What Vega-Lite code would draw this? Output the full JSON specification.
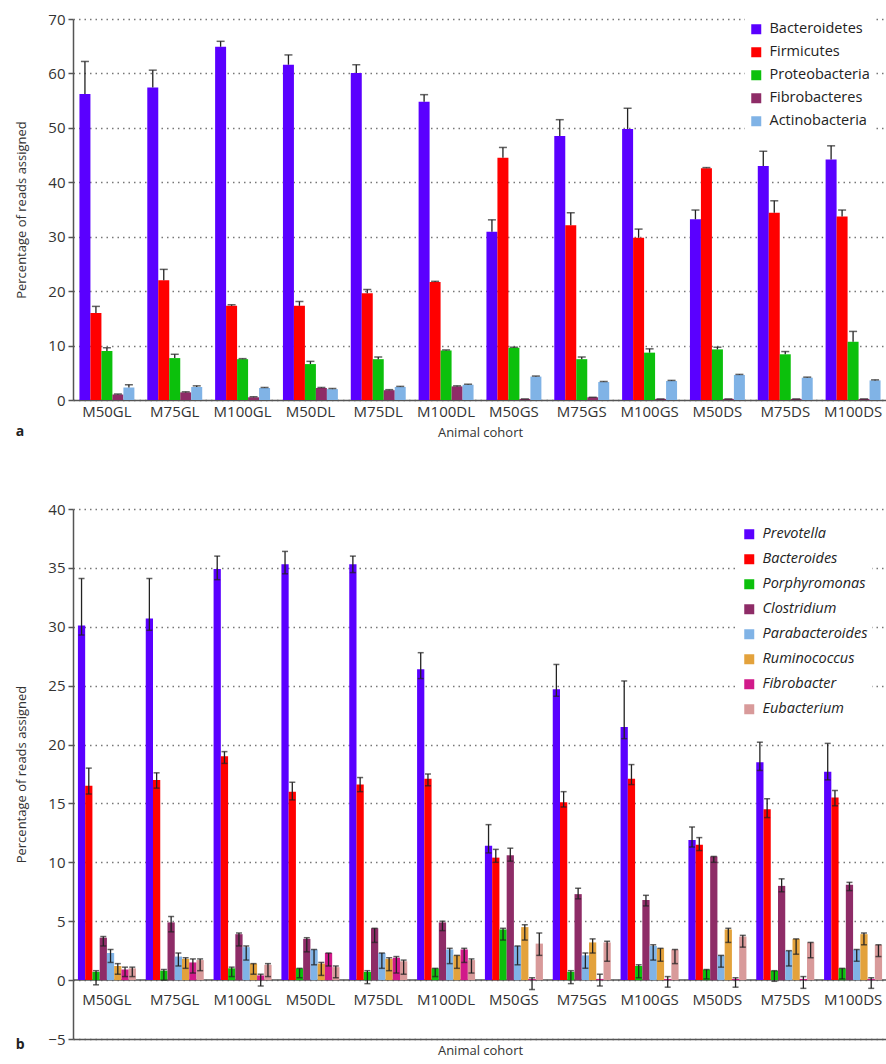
{
  "$schema": "https://vega.github.io/schema/vega-lite/v6.json",
  "padding": {"left": 15, "top": 12, "right": 0, "bottom": 0},
  "spacing": 63,
  "resolve": {"scale": {"color": "independent", "xOffset": "independent", "x": "independent", "y": "independent"}, "legend": {"color": "independent"}},
  "config": {
    "font": "Open Sans",
    "view": {"stroke": null},
    "axis": {"labelFont": "Open Sans", "labelFontSize": 15, "labelColor": "#333", "titleFont": "Open Sans", "titleFontSize": 13, "titleFontWeight": "normal", "titleColor": "#333", "domainColor": "#555", "domainWidth": 1.5, "tickColor": "#555", "tickWidth": 1.5},
    "legend": {"labelFont": "Open Sans", "labelFontSize": 14.5, "labelColor": "#222", "symbolType": "square", "symbolSize": 100, "symbolStrokeWidth": 0, "labelOffset": 6, "fillColor": "white", "padding": 4}
  },
  "datasets": {
    "a": [
      {"cohort": "M50GL", "taxon": "Bacteroidetes", "value": 56.2, "hi": 62.2},
      {"cohort": "M50GL", "taxon": "Firmicutes", "value": 16.0, "hi": 17.2},
      {"cohort": "M50GL", "taxon": "Proteobacteria", "value": 9.0, "hi": 9.6},
      {"cohort": "M50GL", "taxon": "Fibrobacteres", "value": 1.0, "hi": 1.1},
      {"cohort": "M50GL", "taxon": "Actinobacteria", "value": 2.3, "hi": 2.8},
      {"cohort": "M75GL", "taxon": "Bacteroidetes", "value": 57.4, "hi": 60.6},
      {"cohort": "M75GL", "taxon": "Firmicutes", "value": 22.0, "hi": 24.0},
      {"cohort": "M75GL", "taxon": "Proteobacteria", "value": 7.7, "hi": 8.4},
      {"cohort": "M75GL", "taxon": "Fibrobacteres", "value": 1.4, "hi": 1.5},
      {"cohort": "M75GL", "taxon": "Actinobacteria", "value": 2.4, "hi": 2.6},
      {"cohort": "M100GL", "taxon": "Bacteroidetes", "value": 64.9, "hi": 65.9},
      {"cohort": "M100GL", "taxon": "Firmicutes", "value": 17.3, "hi": 17.5},
      {"cohort": "M100GL", "taxon": "Proteobacteria", "value": 7.5, "hi": 7.6},
      {"cohort": "M100GL", "taxon": "Fibrobacteres", "value": 0.5, "hi": 0.6},
      {"cohort": "M100GL", "taxon": "Actinobacteria", "value": 2.2, "hi": 2.3},
      {"cohort": "M50DL", "taxon": "Bacteroidetes", "value": 61.6, "hi": 63.4},
      {"cohort": "M50DL", "taxon": "Firmicutes", "value": 17.3, "hi": 18.1},
      {"cohort": "M50DL", "taxon": "Proteobacteria", "value": 6.6, "hi": 7.1},
      {"cohort": "M50DL", "taxon": "Fibrobacteres", "value": 2.2, "hi": 2.3},
      {"cohort": "M50DL", "taxon": "Actinobacteria", "value": 2.0, "hi": 2.1},
      {"cohort": "M75DL", "taxon": "Bacteroidetes", "value": 60.1, "hi": 61.6},
      {"cohort": "M75DL", "taxon": "Firmicutes", "value": 19.6, "hi": 20.3},
      {"cohort": "M75DL", "taxon": "Proteobacteria", "value": 7.5, "hi": 7.9},
      {"cohort": "M75DL", "taxon": "Fibrobacteres", "value": 1.8, "hi": 1.9},
      {"cohort": "M75DL", "taxon": "Actinobacteria", "value": 2.4, "hi": 2.5},
      {"cohort": "M100DL", "taxon": "Bacteroidetes", "value": 54.8, "hi": 56.1},
      {"cohort": "M100DL", "taxon": "Firmicutes", "value": 21.7, "hi": 21.8},
      {"cohort": "M100DL", "taxon": "Proteobacteria", "value": 9.1, "hi": 9.2},
      {"cohort": "M100DL", "taxon": "Fibrobacteres", "value": 2.5, "hi": 2.6},
      {"cohort": "M100DL", "taxon": "Actinobacteria", "value": 2.8, "hi": 2.9},
      {"cohort": "M50GS", "taxon": "Bacteroidetes", "value": 30.9, "hi": 33.1},
      {"cohort": "M50GS", "taxon": "Firmicutes", "value": 44.5, "hi": 46.4},
      {"cohort": "M50GS", "taxon": "Proteobacteria", "value": 9.6, "hi": 9.7},
      {"cohort": "M50GS", "taxon": "Fibrobacteres", "value": 0.2, "hi": 0.2},
      {"cohort": "M50GS", "taxon": "Actinobacteria", "value": 4.3, "hi": 4.4},
      {"cohort": "M75GS", "taxon": "Bacteroidetes", "value": 48.5, "hi": 51.5},
      {"cohort": "M75GS", "taxon": "Firmicutes", "value": 32.1, "hi": 34.4},
      {"cohort": "M75GS", "taxon": "Proteobacteria", "value": 7.5, "hi": 7.9},
      {"cohort": "M75GS", "taxon": "Fibrobacteres", "value": 0.5, "hi": 0.5},
      {"cohort": "M75GS", "taxon": "Actinobacteria", "value": 3.3, "hi": 3.4},
      {"cohort": "M100GS", "taxon": "Bacteroidetes", "value": 49.8, "hi": 53.6},
      {"cohort": "M100GS", "taxon": "Firmicutes", "value": 29.8, "hi": 31.4},
      {"cohort": "M100GS", "taxon": "Proteobacteria", "value": 8.7, "hi": 9.4},
      {"cohort": "M100GS", "taxon": "Fibrobacteres", "value": 0.2, "hi": 0.2},
      {"cohort": "M100GS", "taxon": "Actinobacteria", "value": 3.5, "hi": 3.6},
      {"cohort": "M50DS", "taxon": "Bacteroidetes", "value": 33.2, "hi": 34.9},
      {"cohort": "M50DS", "taxon": "Firmicutes", "value": 42.6, "hi": 42.7},
      {"cohort": "M50DS", "taxon": "Proteobacteria", "value": 9.3, "hi": 9.7},
      {"cohort": "M50DS", "taxon": "Fibrobacteres", "value": 0.2, "hi": 0.2},
      {"cohort": "M50DS", "taxon": "Actinobacteria", "value": 4.6, "hi": 4.7},
      {"cohort": "M75DS", "taxon": "Bacteroidetes", "value": 43.0, "hi": 45.7},
      {"cohort": "M75DS", "taxon": "Firmicutes", "value": 34.4, "hi": 36.6},
      {"cohort": "M75DS", "taxon": "Proteobacteria", "value": 8.4, "hi": 8.9},
      {"cohort": "M75DS", "taxon": "Fibrobacteres", "value": 0.2, "hi": 0.2},
      {"cohort": "M75DS", "taxon": "Actinobacteria", "value": 4.1, "hi": 4.2},
      {"cohort": "M100DS", "taxon": "Bacteroidetes", "value": 44.2, "hi": 46.7},
      {"cohort": "M100DS", "taxon": "Firmicutes", "value": 33.7, "hi": 34.9},
      {"cohort": "M100DS", "taxon": "Proteobacteria", "value": 10.7, "hi": 12.6},
      {"cohort": "M100DS", "taxon": "Fibrobacteres", "value": 0.2, "hi": 0.2},
      {"cohort": "M100DS", "taxon": "Actinobacteria", "value": 3.6, "hi": 3.7}
    ],
    "b": [
      {"cohort": "M50GL", "taxon": "Prevotella", "value": 30.1, "lo": 29.3, "hi": 34.1},
      {"cohort": "M50GL", "taxon": "Bacteroides", "value": 16.5, "lo": 15.8, "hi": 18.0},
      {"cohort": "M50GL", "taxon": "Porphyromonas", "value": 0.7, "lo": -0.4, "hi": 0.8},
      {"cohort": "M50GL", "taxon": "Clostridium", "value": 3.6, "lo": 2.9, "hi": 3.7},
      {"cohort": "M50GL", "taxon": "Parabacteroides", "value": 2.3, "lo": 1.5, "hi": 2.6},
      {"cohort": "M50GL", "taxon": "Ruminococcus", "value": 1.2, "lo": 0.5, "hi": 1.4},
      {"cohort": "M50GL", "taxon": "Fibrobacter", "value": 0.9, "lo": 0.3, "hi": 1.1},
      {"cohort": "M50GL", "taxon": "Eubacterium", "value": 1.0, "lo": 0.3, "hi": 1.1},
      {"cohort": "M75GL", "taxon": "Prevotella", "value": 30.7, "lo": 29.7, "hi": 34.1},
      {"cohort": "M75GL", "taxon": "Bacteroides", "value": 17.0, "lo": 16.3, "hi": 17.6},
      {"cohort": "M75GL", "taxon": "Porphyromonas", "value": 0.8, "lo": 0.0, "hi": 0.9},
      {"cohort": "M75GL", "taxon": "Clostridium", "value": 4.9, "lo": 4.1, "hi": 5.4},
      {"cohort": "M75GL", "taxon": "Parabacteroides", "value": 2.0, "lo": 1.2, "hi": 2.3},
      {"cohort": "M75GL", "taxon": "Ruminococcus", "value": 1.8, "lo": 1.0, "hi": 1.9},
      {"cohort": "M75GL", "taxon": "Fibrobacter", "value": 1.5, "lo": 0.6, "hi": 1.8},
      {"cohort": "M75GL", "taxon": "Eubacterium", "value": 1.7, "lo": 0.8, "hi": 1.8},
      {"cohort": "M100GL", "taxon": "Prevotella", "value": 34.9, "lo": 34.0, "hi": 36.0},
      {"cohort": "M100GL", "taxon": "Bacteroides", "value": 19.0, "lo": 18.4, "hi": 19.4},
      {"cohort": "M100GL", "taxon": "Porphyromonas", "value": 1.0, "lo": 0.3, "hi": 1.1},
      {"cohort": "M100GL", "taxon": "Clostridium", "value": 3.9, "lo": 2.9, "hi": 4.0},
      {"cohort": "M100GL", "taxon": "Parabacteroides", "value": 2.8, "lo": 1.7, "hi": 2.9},
      {"cohort": "M100GL", "taxon": "Ruminococcus", "value": 1.4, "lo": 0.5, "hi": 1.4},
      {"cohort": "M100GL", "taxon": "Fibrobacter", "value": 0.4, "lo": -0.5, "hi": 0.5},
      {"cohort": "M100GL", "taxon": "Eubacterium", "value": 1.3, "lo": 0.3, "hi": 1.4},
      {"cohort": "M50DL", "taxon": "Prevotella", "value": 35.3, "lo": 34.5, "hi": 36.4},
      {"cohort": "M50DL", "taxon": "Bacteroides", "value": 16.0, "lo": 15.3, "hi": 16.8},
      {"cohort": "M50DL", "taxon": "Porphyromonas", "value": 1.0, "lo": 0.2, "hi": 1.0},
      {"cohort": "M50DL", "taxon": "Clostridium", "value": 3.5, "lo": 2.4, "hi": 3.6},
      {"cohort": "M50DL", "taxon": "Parabacteroides", "value": 2.6, "lo": 1.3, "hi": 2.6},
      {"cohort": "M50DL", "taxon": "Ruminococcus", "value": 1.4, "lo": 0.4, "hi": 1.5},
      {"cohort": "M50DL", "taxon": "Fibrobacter", "value": 2.3, "lo": 1.2, "hi": 2.3},
      {"cohort": "M50DL", "taxon": "Eubacterium", "value": 1.1, "lo": 0.2, "hi": 1.2},
      {"cohort": "M75DL", "taxon": "Prevotella", "value": 35.3, "lo": 34.6, "hi": 36.0},
      {"cohort": "M75DL", "taxon": "Bacteroides", "value": 16.6, "lo": 16.0, "hi": 17.2},
      {"cohort": "M75DL", "taxon": "Porphyromonas", "value": 0.7, "lo": -0.3, "hi": 0.8},
      {"cohort": "M75DL", "taxon": "Clostridium", "value": 4.4, "lo": 3.2, "hi": 4.4},
      {"cohort": "M75DL", "taxon": "Parabacteroides", "value": 2.3, "lo": 1.0, "hi": 2.3},
      {"cohort": "M75DL", "taxon": "Ruminococcus", "value": 1.8, "lo": 0.8, "hi": 1.9},
      {"cohort": "M75DL", "taxon": "Fibrobacter", "value": 1.9, "lo": 0.6, "hi": 2.0},
      {"cohort": "M75DL", "taxon": "Eubacterium", "value": 1.6, "lo": 0.5, "hi": 1.7},
      {"cohort": "M100DL", "taxon": "Prevotella", "value": 26.4, "lo": 25.6, "hi": 27.8},
      {"cohort": "M100DL", "taxon": "Bacteroides", "value": 17.1, "lo": 16.5, "hi": 17.5},
      {"cohort": "M100DL", "taxon": "Porphyromonas", "value": 1.0, "lo": 0.3, "hi": 1.0},
      {"cohort": "M100DL", "taxon": "Clostridium", "value": 4.9, "lo": 4.2, "hi": 5.0},
      {"cohort": "M100DL", "taxon": "Parabacteroides", "value": 2.6, "lo": 1.4, "hi": 2.7},
      {"cohort": "M100DL", "taxon": "Ruminococcus", "value": 2.1, "lo": 1.0, "hi": 2.1},
      {"cohort": "M100DL", "taxon": "Fibrobacter", "value": 2.6, "lo": 1.5, "hi": 2.7},
      {"cohort": "M100DL", "taxon": "Eubacterium", "value": 1.7, "lo": 0.6, "hi": 1.8},
      {"cohort": "M50GS", "taxon": "Prevotella", "value": 11.4, "lo": 10.8, "hi": 13.2},
      {"cohort": "M50GS", "taxon": "Bacteroides", "value": 10.4, "lo": 10.0, "hi": 11.1},
      {"cohort": "M50GS", "taxon": "Porphyromonas", "value": 4.3, "lo": 3.4, "hi": 4.4},
      {"cohort": "M50GS", "taxon": "Clostridium", "value": 10.6, "lo": 10.1, "hi": 11.2},
      {"cohort": "M50GS", "taxon": "Parabacteroides", "value": 2.9, "lo": 1.3, "hi": 2.9},
      {"cohort": "M50GS", "taxon": "Ruminococcus", "value": 4.5, "lo": 3.4, "hi": 4.7},
      {"cohort": "M50GS", "taxon": "Fibrobacter", "value": 0.1, "lo": -0.8, "hi": 0.2},
      {"cohort": "M50GS", "taxon": "Eubacterium", "value": 3.1, "lo": 2.1, "hi": 4.0},
      {"cohort": "M75GS", "taxon": "Prevotella", "value": 24.7, "lo": 24.1, "hi": 26.8},
      {"cohort": "M75GS", "taxon": "Bacteroides", "value": 15.1, "lo": 14.7, "hi": 16.0},
      {"cohort": "M75GS", "taxon": "Porphyromonas", "value": 0.7, "lo": -0.3, "hi": 0.8},
      {"cohort": "M75GS", "taxon": "Clostridium", "value": 7.3, "lo": 6.9, "hi": 7.8},
      {"cohort": "M75GS", "taxon": "Parabacteroides", "value": 2.1, "lo": 1.0, "hi": 2.3},
      {"cohort": "M75GS", "taxon": "Ruminococcus", "value": 3.2, "lo": 2.3, "hi": 3.5},
      {"cohort": "M75GS", "taxon": "Fibrobacter", "value": 0.1, "lo": -0.5, "hi": 0.5},
      {"cohort": "M75GS", "taxon": "Eubacterium", "value": 3.2, "lo": 1.6, "hi": 3.3},
      {"cohort": "M100GS", "taxon": "Prevotella", "value": 21.5, "lo": 20.5, "hi": 25.4},
      {"cohort": "M100GS", "taxon": "Bacteroides", "value": 17.1, "lo": 16.6, "hi": 18.3},
      {"cohort": "M100GS", "taxon": "Porphyromonas", "value": 1.2, "lo": 0.2, "hi": 1.3},
      {"cohort": "M100GS", "taxon": "Clostridium", "value": 6.8, "lo": 6.3, "hi": 7.2},
      {"cohort": "M100GS", "taxon": "Parabacteroides", "value": 2.9, "lo": 1.7, "hi": 3.0},
      {"cohort": "M100GS", "taxon": "Ruminococcus", "value": 2.7, "lo": 1.6, "hi": 2.7},
      {"cohort": "M100GS", "taxon": "Fibrobacter", "value": 0.1, "lo": -0.6, "hi": 0.3},
      {"cohort": "M100GS", "taxon": "Eubacterium", "value": 2.6, "lo": 1.4, "hi": 2.6},
      {"cohort": "M50DS", "taxon": "Prevotella", "value": 11.9, "lo": 11.3, "hi": 13.0},
      {"cohort": "M50DS", "taxon": "Bacteroides", "value": 11.5, "lo": 11.0, "hi": 12.1},
      {"cohort": "M50DS", "taxon": "Porphyromonas", "value": 0.9, "lo": 0.1, "hi": 0.9},
      {"cohort": "M50DS", "taxon": "Clostridium", "value": 10.5, "lo": 10.0, "hi": 10.5},
      {"cohort": "M50DS", "taxon": "Parabacteroides", "value": 2.1, "lo": 1.1, "hi": 2.1},
      {"cohort": "M50DS", "taxon": "Ruminococcus", "value": 4.3, "lo": 3.2, "hi": 4.4},
      {"cohort": "M50DS", "taxon": "Fibrobacter", "value": 0.1, "lo": -0.6, "hi": 0.2},
      {"cohort": "M50DS", "taxon": "Eubacterium", "value": 3.7, "lo": 2.8, "hi": 3.8},
      {"cohort": "M75DS", "taxon": "Prevotella", "value": 18.5, "lo": 17.8, "hi": 20.2},
      {"cohort": "M75DS", "taxon": "Bacteroides", "value": 14.5, "lo": 13.8, "hi": 15.4},
      {"cohort": "M75DS", "taxon": "Porphyromonas", "value": 0.8, "lo": -0.1, "hi": 0.8},
      {"cohort": "M75DS", "taxon": "Clostridium", "value": 8.0, "lo": 7.5, "hi": 8.6},
      {"cohort": "M75DS", "taxon": "Parabacteroides", "value": 2.5, "lo": 1.2, "hi": 2.5},
      {"cohort": "M75DS", "taxon": "Ruminococcus", "value": 3.5, "lo": 2.2, "hi": 3.5},
      {"cohort": "M75DS", "taxon": "Fibrobacter", "value": 0.1, "lo": -0.7, "hi": 0.3},
      {"cohort": "M75DS", "taxon": "Eubacterium", "value": 3.2, "lo": 1.9, "hi": 3.2},
      {"cohort": "M100DS", "taxon": "Prevotella", "value": 17.7, "lo": 17.0, "hi": 20.1},
      {"cohort": "M100DS", "taxon": "Bacteroides", "value": 15.5, "lo": 14.8, "hi": 16.1},
      {"cohort": "M100DS", "taxon": "Porphyromonas", "value": 1.0, "lo": 0.1, "hi": 1.0},
      {"cohort": "M100DS", "taxon": "Clostridium", "value": 8.1, "lo": 7.6, "hi": 8.3},
      {"cohort": "M100DS", "taxon": "Parabacteroides", "value": 2.6, "lo": 1.6, "hi": 2.6},
      {"cohort": "M100DS", "taxon": "Ruminococcus", "value": 3.9, "lo": 3.0, "hi": 4.0},
      {"cohort": "M100DS", "taxon": "Fibrobacter", "value": 0.1, "lo": -0.7, "hi": 0.2},
      {"cohort": "M100DS", "taxon": "Eubacterium", "value": 3.0, "lo": 2.0, "hi": 3.0}
    ]
  },
  "vconcat": [
    {
      "width": 814,
      "height": 381,
      "data": {"name": "a"},
      "title": {"text": "a", "orient": "bottom", "anchor": "start", "frame": "bounds", "fontSize": 14, "fontWeight": "bold", "offset": -14, "color": "#222"},
      "layer": [
        {
          "mark": {"type": "bar"},
          "encoding": {
            "x": {"field": "cohort", "type": "nominal", "sort": ["M50GL","M75GL","M100GL","M50DL","M75DL","M100DL","M50GS","M75GS","M100GS","M50DS","M75DS","M100DS"], "scale": {"paddingInner": 0.19, "paddingOuter": 0.095}, "axis": {"title": "Animal cohort", "labelAngle": 0, "ticks": false, "tickSize": 0, "labelPadding": 4, "titlePadding": 7}},
            "xOffset": {"field": "taxon", "type": "nominal", "sort": ["Bacteroidetes","Firmicutes","Proteobacteria","Fibrobacteres","Actinobacteria"], "scale": {"paddingInner": 0, "paddingOuter": 0}},
            "y": {"field": "value", "type": "quantitative", "scale": {"domain": [0, 70]}, "axis": {"title": "Percentage of reads assigned", "values": [0,10,20,30,40,50,60,70], "grid": true, "gridDash": [1.5, 4], "gridColor": "#777", "gridWidth": 1.3, "tickSize": 5, "labelPadding": 3, "titlePadding": 19}},
            "color": {"field": "taxon", "type": "nominal", "scale": {"domain": ["Bacteroidetes","Firmicutes","Proteobacteria","Fibrobacteres","Actinobacteria"], "range": ["#5a00ff","#ff0000","#0cc00c","#8e2c67","#80b3e6"]}, "legend": {"title": null, "orient": "none", "legendX": 672, "legendY": -1, "rowPadding": 8}}
          }
        },
        {
          "mark": {"type": "rule", "color": "#222", "strokeWidth": 1.3},
          "encoding": {
            "x": {"field": "cohort", "type": "nominal", "sort": ["M50GL","M75GL","M100GL","M50DL","M75DL","M100DL","M50GS","M75GS","M100GS","M50DS","M75DS","M100DS"]},
            "xOffset": {"field": "taxon", "type": "nominal", "sort": ["Bacteroidetes","Firmicutes","Proteobacteria","Fibrobacteres","Actinobacteria"]},
            "y": {"field": "value", "type": "quantitative"},
            "y2": {"field": "hi"}
          }
        },
        {
          "mark": {"type": "tick", "color": "#222", "thickness": 1.5, "size": 8},
          "encoding": {
            "x": {"field": "cohort", "type": "nominal", "sort": ["M50GL","M75GL","M100GL","M50DL","M75DL","M100DL","M50GS","M75GS","M100GS","M50DS","M75DS","M100DS"]},
            "xOffset": {"field": "taxon", "type": "nominal", "sort": ["Bacteroidetes","Firmicutes","Proteobacteria","Fibrobacteres","Actinobacteria"]},
            "y": {"field": "hi", "type": "quantitative"}
          }
        }
      ]
    },
    {
      "width": 814,
      "height": 530,
      "data": {"name": "b"},
      "title": {"text": "b", "orient": "bottom", "anchor": "start", "frame": "bounds", "fontSize": 14, "fontWeight": "bold", "offset": -19, "color": "#222"},
      "layer": [
        {
          "data": {"values": [{}]},
          "mark": {"type": "rule", "color": "#555", "strokeWidth": 1.5},
          "encoding": {"y": {"datum": 0}}
        },
        {
          "mark": {"type": "bar"},
          "encoding": {
            "x": {"field": "cohort", "type": "nominal", "sort": ["M50GL","M75GL","M100GL","M50DL","M75DL","M100DL","M50GS","M75GS","M100GS","M50DS","M75DS","M100DS"], "scale": {"paddingInner": 0.145, "paddingOuter": 0.0725}, "axis": {"title": "Animal cohort", "labelAngle": 0, "ticks": false, "tickSize": 0, "labelPadding": -47, "titlePadding": 5}},
            "xOffset": {"field": "taxon", "type": "nominal", "sort": ["Prevotella","Bacteroides","Porphyromonas","Clostridium","Parabacteroides","Ruminococcus","Fibrobacter","Eubacterium"], "scale": {"paddingInner": 0, "paddingOuter": 0}},
            "y": {"field": "value", "type": "quantitative", "scale": {"domain": [-5, 40]}, "axis": {"title": "Percentage of reads assigned", "values": [-5,0,5,10,15,20,25,30,35,40], "grid": true, "gridDash": [1.5, 4], "gridColor": "#777", "gridWidth": 1.3, "tickSize": 5, "labelPadding": 3, "titlePadding": 19}},
            "color": {"field": "taxon", "type": "nominal", "scale": {"domain": ["Prevotella","Bacteroides","Porphyromonas","Clostridium","Parabacteroides","Ruminococcus","Fibrobacter","Eubacterium"], "range": ["#5a00ff","#ff0000","#0cc00c","#8e2c67","#80b3e6","#e3a23c","#d11a8a","#d89a9a"]}, "legend": {"title": null, "orient": "none", "legendX": 665, "legendY": 14, "rowPadding": 10, "labelFontStyle": "italic"}}
          }
        },
        {
          "mark": {"type": "rule", "color": "#222", "strokeWidth": 1.3},
          "encoding": {
            "x": {"field": "cohort", "type": "nominal", "sort": ["M50GL","M75GL","M100GL","M50DL","M75DL","M100DL","M50GS","M75GS","M100GS","M50DS","M75DS","M100DS"]},
            "xOffset": {"field": "taxon", "type": "nominal", "sort": ["Prevotella","Bacteroides","Porphyromonas","Clostridium","Parabacteroides","Ruminococcus","Fibrobacter","Eubacterium"]},
            "y": {"field": "lo", "type": "quantitative"},
            "y2": {"field": "hi"}
          }
        },
        {
          "mark": {"type": "tick", "color": "#222", "thickness": 1.5, "size": 6},
          "encoding": {
            "x": {"field": "cohort", "type": "nominal", "sort": ["M50GL","M75GL","M100GL","M50DL","M75DL","M100DL","M50GS","M75GS","M100GS","M50DS","M75DS","M100DS"]},
            "xOffset": {"field": "taxon", "type": "nominal", "sort": ["Prevotella","Bacteroides","Porphyromonas","Clostridium","Parabacteroides","Ruminococcus","Fibrobacter","Eubacterium"]},
            "y": {"field": "hi", "type": "quantitative"}
          }
        },
        {
          "mark": {"type": "tick", "color": "#222", "thickness": 1.5, "size": 6},
          "encoding": {
            "x": {"field": "cohort", "type": "nominal", "sort": ["M50GL","M75GL","M100GL","M50DL","M75DL","M100DL","M50GS","M75GS","M100GS","M50DS","M75DS","M100DS"]},
            "xOffset": {"field": "taxon", "type": "nominal", "sort": ["Prevotella","Bacteroides","Porphyromonas","Clostridium","Parabacteroides","Ruminococcus","Fibrobacter","Eubacterium"]},
            "y": {"field": "lo", "type": "quantitative"}
          }
        }
      ]
    }
  ]
}
